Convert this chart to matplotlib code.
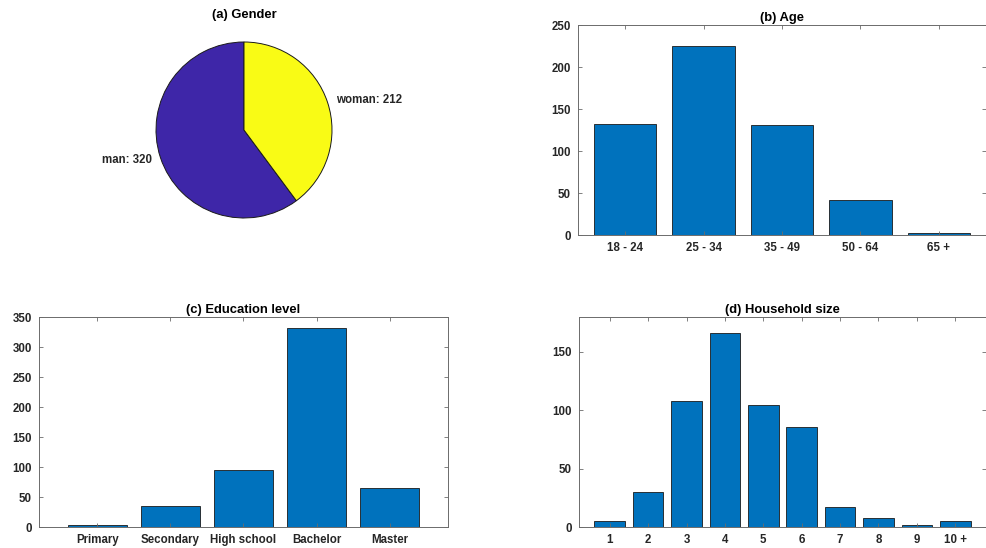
import matplotlib.pyplot as plt
import numpy as np

plt.rcParams['font.family'] = ['Liberation Sans', 'DejaVu Sans']
plt.rcParams['font.weight'] = 'bold'

# (a) gender
gender_labels = ['man', 'woman']
gender_counts = [320, 212]

# (b) age
age_labels = ['18 - 24', '25 - 34', '35 - 49', '50 - 64', '65 +']
age_counts = [132, 225, 131, 42, 2]

# (c) education
edu_labels = ['Primary', 'Secondary', 'High school', 'Bachelor', 'Master']
edu_counts = [3, 35, 95, 332, 65]

# (d) household size
hh_labels = ['1', '2', '3', '4', '5', '6', '7', '8', '9', '10 +']
hh_counts = [5, 30, 108, 166, 105, 86, 17, 8, 2, 5]

BAR_COLOR = '#0072BD'
TXT = '#262626'
AX = '#6b6b6b'
FS = 8.3
TFS = 9.4

fig = plt.figure(figsize=(9.87, 5.48), dpi=100)


def px_axes(left, top, right, bottom):
    W, H = 987.0, 548.0
    return fig.add_axes([left / W, 1 - bottom / H, (right - left) / W, (bottom - top) / H])


def bar_panel(ax, labels, counts, xlim, ylim, yticks, title):
    x = np.arange(1, len(counts) + 1)
    ax.bar(x, counts, width=0.8, color=BAR_COLOR, edgecolor='#1a1a1a', linewidth=0.6)
    ax.set_xlim(*xlim)
    ax.set_ylim(*ylim)
    ax.set_xticks(x)
    ax.set_xticklabels(labels)
    ax.set_yticks(yticks)
    ax.tick_params(direction='in', length=3, width=0.6, color=AX,
                   top=True, right=True, labelsize=FS, labelcolor=TXT, pad=5)
    for s in ax.spines.values():
        s.set_color(AX)
        s.set_linewidth(0.7)
    ax.set_title(title, fontsize=TFS, fontweight='bold', color='black', pad=3)


# pie
ax_a = px_axes(156, 42, 332, 218)
ax_a.pie(gender_counts, labels=[f'{l}: {c}' for l, c in zip(gender_labels, gender_counts)],
         colors=['#3e26a8', '#f9fb15'], startangle=90, counterclock=True,
         labeldistance=1.1, wedgeprops=dict(edgecolor='#1a1a1a', linewidth=0.7),
         textprops=dict(fontsize=FS, fontweight='bold', color=TXT))
ax_a.set_xlim(-1, 1)
ax_a.set_ylim(-1, 1)
ax_a.set_aspect('equal')
fig.text(244 / 987, 1 - 15 / 548, '(a) Gender', ha='center', va='center',
         fontsize=TFS, fontweight='bold')

ax_b = px_axes(578, 25, 986, 235)
bar_panel(ax_b, age_labels, age_counts, (0.4, 5.6), (0, 250), [0, 50, 100, 150, 200, 250], '(b) Age')

ax_c = px_axes(39, 317, 448, 527)
bar_panel(ax_c, edu_labels, edu_counts, (0.2, 5.8), (0, 350),
          [0, 50, 100, 150, 200, 250, 300, 350], '(c) Education level')

ax_d = px_axes(579, 317, 986, 527)
bar_panel(ax_d, hh_labels, hh_counts, (0.2, 10.8), (0, 180), [0, 50, 100, 150], '(d) Household size')

fig.savefig('out.png', dpi=100)
